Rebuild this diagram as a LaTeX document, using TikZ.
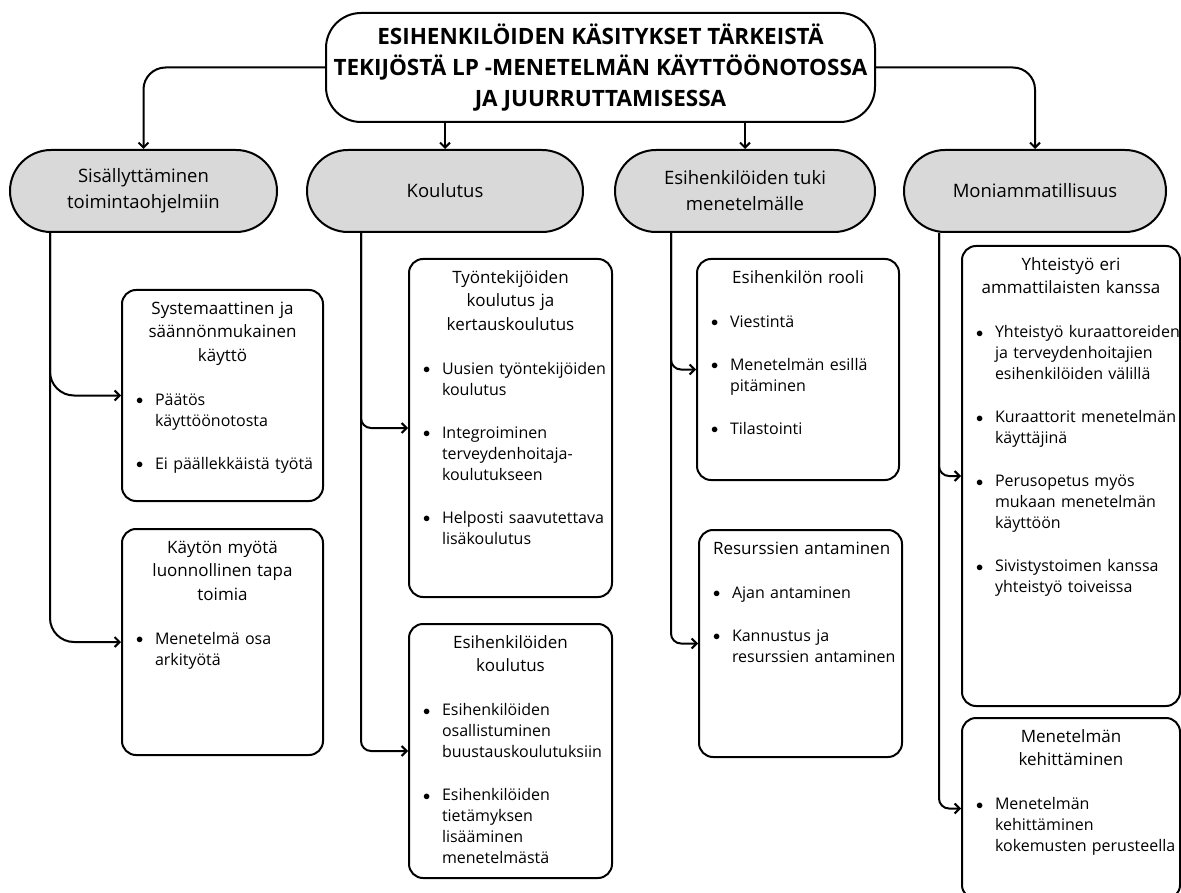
\documentclass[tikz,border=0pt]{standalone}
\usepackage{fontspec}
\setmainfont{Open Sans}
\usetikzlibrary{arrows.meta}
\tikzset {>={Straight Barb[length=5pt,width=10pt]}}
\definecolor{harmaa}{HTML}{D9D9D9}
\newcommand*{\otsake}[1]{{\centering\hyphenpenalty=10000 \fontsize{17}{23.5}\selectfont\strut#1\par}\vspace{23pt}}
\newcommand*{\pallo}{\raisebox{0.5pt}{\fontsize{14}{14}\selectfont$\bullet$}}
\newcommand*{\kohta}[1]{\par\hyphenpenalty=10000 \hangindent=19pt\hangafter=1 \noindent\hbox to 19pt{\pallo\hfil}#1\par\vspace{22pt}}

\begin{document}
\begin{tikzpicture}[x=1pt,y=-1pt,line width=2pt,
  paaotsikko/.style={draw,rounded corners=35pt,minimum width=549,minimum height=109,
    align=center,font=\bfseries\fontsize{22.5}{31}\selectfont},
  teema/.style={draw,fill=harmaa,rounded corners=41pt,minimum height=82,
    align=center,font=\fontsize{18.5}{26}\selectfont},
  laatikko/.style={draw,rounded corners=14pt},
  sisus/.style={anchor=north west,inner sep=0pt,align=left,font=\fontsize{16}{21}\selectfont}]
\useasboundingbox (0,0) rectangle (1181,893);

\node[paaotsikko] (paa) at (600.5,67.5) {ESIHENKILÖIDEN KÄSITYKSET TÄRKEISTÄ\\TEKIJÖSTÄ LP -MENETELMÄN KÄYTTÖÖNOTOSSA\\JA JUURRUTTAMISESSA};

\node[teema,minimum width=267] (sis) at (143.5,191) {Sisällyttäminen\\toimintaohjelmiin};
\node[teema,minimum width=276] (koul) at (445,191) {Koulutus};
\node[teema,minimum width=260] (tuki) at (745,191) {Esihenkilöiden tuki\\menetelmälle};
\node[teema,minimum width=262] (moni) at (1035,191) {Moniammatillisuus};

\node[laatikko,minimum width=201,minimum height=211] (jarj) at (222.5,395.5) {};
\node[laatikko,minimum width=201,minimum height=226] (arki) at (222.5,642) {};
\node[laatikko,minimum width=203,minimum height=338] (tyont) at (510.5,428) {};
\node[laatikko,minimum width=203,minimum height=254] (esikoul) at (510.5,751) {};
\node[laatikko,minimum width=202,minimum height=221] (rooli) at (798,369.5) {};
\node[laatikko,minimum width=203,minimum height=227] (resurssit) at (800.5,643.5) {};
\node[laatikko,minimum width=218,minimum height=460] (yhteis) at (1071,476) {};
\node[laatikko,minimum width=218,minimum height=181] (kehit) at (1071,808.5) {};

\node[sisus,text width=173pt] (jarjteksti) at ([xshift=14pt,yshift=-8pt]jarj.north west)
  {\otsake{Systemaattinen ja\\säännönmukainen\\käyttö}\kohta{Päätös\newline käyttöönotosta}\kohta{Ei~päällekkäistä~työtä}};
\node[sisus,text width=173pt] (arkiteksti) at ([xshift=14pt,yshift=-8pt]arki.north west)
  {\otsake{Käytön myötä\\luonnollinen tapa\\toimia}\kohta{Menetelmä osa\newline arkityötä}};
\node[sisus,text width=175pt] (tyontteksti) at ([xshift=14pt,yshift=-8pt]tyont.north west)
  {\otsake{Työntekijöiden\\koulutus ja\\kertauskoulutus}\kohta{Uusien~työntekijöiden\newline koulutus}\kohta{Integroiminen\newline terveydenhoitaja-\newline koulutukseen}\kohta{Helposti~saavutettava\newline lisäkoulutus}};
\node[sisus,text width=175pt] (esikoulteksti) at ([xshift=14pt,yshift=-8pt]esikoul.north west)
  {\otsake{Esihenkilöiden\\koulutus}\kohta{Esihenkilöiden\newline osallistuminen\newline buustauskoulutuksiin}\kohta{Esihenkilöiden\newline tietämyksen\newline lisääminen\newline menetelmästä}};
\node[sisus,text width=174pt] (roolitekst) at ([xshift=14pt,yshift=-8pt]rooli.north west)
  {\otsake{Esihenkilön rooli}\kohta{Viestintä}\kohta{Menetelmän~esillä\newline pitäminen}\kohta{Tilastointi}};
\node[sisus,text width=175pt] (resurssiteksti) at ([xshift=14pt,yshift=-8pt]resurssit.north west)
  {\otsake{Resurssien~antaminen}\kohta{Ajan antaminen}\kohta{Kannustus ja\newline resurssien~antaminen}};
\node[sisus,text width=190pt] (yhteisteksti) at ([xshift=14pt,yshift=-8pt]yhteis.north west)
  {\otsake{Yhteistyö eri\\ammattilaisten~kanssa}\kohta{Yhteistyö~kuraattoreiden\newline ja~terveydenhoitajien\newline esihenkilöiden~välillä}\kohta{Kuraattorit~menetelmän\newline käyttäjinä}\kohta{Perusopetus~myös\newline mukaan~menetelmän\newline käyttöön}\kohta{Sivistystoimen~kanssa\newline yhteistyö~toiveissa}};
\node[sisus,text width=190pt] (kehitteksti) at ([xshift=14pt,yshift=-8pt]kehit.north west)
  {\otsake{Menetelmän\\kehittäminen}\kohta{Menetelmän\newline kehittäminen\newline kokemusten~perusteella}};

\draw[->,rounded corners=22pt] (paa.west) -| (sis.north);
\draw[->] (paa.south -| koul.north) -- (koul.north);
\draw[->] (paa.south -| tuki.north) -- (tuki.north);
\draw[->,rounded corners=22pt] (paa.east) -| (moni.north);

\draw[->,rounded corners=24pt] ([xshift=41pt]sis.south west) |- (jarj.west);
\draw[->,rounded corners=24pt] ([xshift=41pt]sis.south west) |- (arki.west);
\draw[->,rounded corners=10pt] ([xshift=55pt]koul.south west) |- (tyont.west);
\draw[->,rounded corners=10pt] ([xshift=55pt]koul.south west) |- (esikoul.west);
\draw[->,rounded corners=10pt] ([xshift=57pt]tuki.south west) |- (rooli.west);
\draw[->,rounded corners=10pt] ([xshift=57pt]tuki.south west) |- (resurssit.west);
\draw[->,rounded corners=10pt] ([xshift=36pt]moni.south west) |- (yhteis.west);
\draw[->,rounded corners=10pt] ([xshift=36pt]moni.south west) |- (kehit.west);
\end{tikzpicture}
\end{document}
